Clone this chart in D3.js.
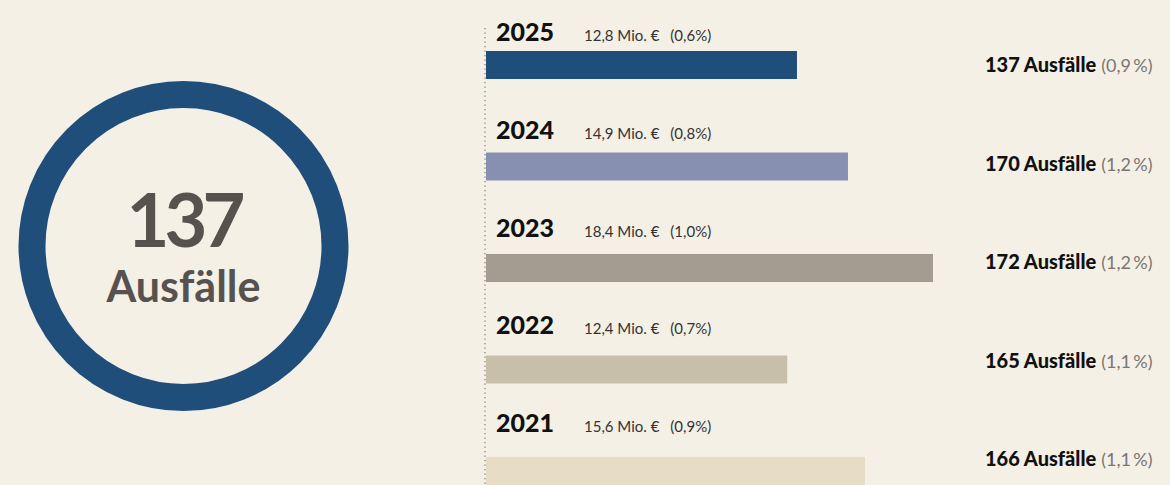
<!DOCTYPE html>
<html>
<head>
<meta charset="utf-8">
<script src="https://cdn.jsdelivr.net/npm/d3@7"></script>
<style>
  body { margin: 0; background: #f4f0e6; }
  svg { display: block; font-family: Lato, "Noto Sans", sans-serif; }
</style>
</head>
<body>
<div id="chart"></div>
<script>
// data
const years = ["2025", "2024", "2023", "2022", "2021"];
const amounts = [12.8, 14.9, 18.4, 12.4, 15.6];       // Mio. €
const amountPct = [0.6, 0.8, 1.0, 0.7, 0.9];          // % 
const failures = [137, 170, 172, 165, 166];           // Ausfälle
const failurePct = [0.9, 1.2, 1.2, 1.1, 1.1];         // %
const barColors = ["#1f4e7a", "#8790b1", "#a29d90", "#c8bfaa", "#e7ddc4"];

const width = 1170;
const height = 485;

// german number format
const de = d3.formatLocale({ decimal: ",", thousands: ".", grouping: [3], currency: ["", " €"] });
const f1 = de.format(".1f");

const svg = d3.select("#chart")
  .append("svg")
  .attr("width", width)
  .attr("height", height);

svg.append("rect")
  .attr("width", width)
  .attr("height", height)
  .attr("fill", "#f4f0e6");

// ---------------- big ring on the left ----------------
const cx = 183.5, cy = 246;
svg.append("circle")
  .attr("cx", cx)
  .attr("cy", cy)
  .attr("r", 151.5)
  .attr("fill", "none")
  .attr("stroke", barColors[0])
  .attr("stroke-width", 27);

svg.append("text")
  .attr("x", cx)
  .attr("y", 247)
  .attr("text-anchor", "middle")
  .attr("font-size", 74)
  .attr("font-weight", 700)
  .attr("letter-spacing", -5)
  .attr("fill", "#57524e")
  .text(failures[0]);

svg.append("text")
  .attr("x", cx)
  .attr("y", 302)
  .attr("text-anchor", "middle")
  .attr("font-size", 43)
  .attr("font-weight", 700)
  .attr("fill", "#57524e")
  .text("Ausfälle");

// ---------------- bars ----------------
const x = d3.scaleLinear()
  .domain([0, d3.max(amounts)])
  .range([486, 933]);

// row positions (bars, year labels, right labels are spaced slightly differently)
const barY = d3.scalePoint().domain(years).range([51, 457]);
const yearY = d3.scalePoint().domain(years).range([41, 432]);
const rightY = d3.scalePoint().domain(years).range([72, 466]);
const barH = 28;

// dotted baseline
svg.append("line")
  .attr("x1", x(0) - 1)
  .attr("x2", x(0) - 1)
  .attr("y1", 28)
  .attr("y2", height)
  .attr("stroke", "#8a8680")
  .attr("stroke-width", 1.3)
  .attr("stroke-dasharray", "1.3,3.2");

const rows = svg.selectAll(".row")
  .data(years)
  .enter()
  .append("g")
  .attr("class", "row");

rows.append("rect")
  .attr("x", x(0))
  .attr("y", d => barY(d))
  .attr("width", (d, i) => x(amounts[i]) - x(0))
  .attr("height", barH)
  .attr("fill", (d, i) => barColors[i]);

rows.append("text")
  .attr("x", 496)
  .attr("y", d => yearY(d))
  .attr("font-size", 25)
  .attr("font-weight", 900)
  .attr("fill", "#111")
  .text(d => d);

const amt = rows.append("text")
  .attr("x", 584)
  .attr("y", d => yearY(d))
  .attr("font-size", 15)
  .attr("fill", "#333");
amt.append("tspan")
  .text((d, i) => f1(amounts[i]) + " Mio. €");
amt.append("tspan")
  .attr("dx", 11)
  .text((d, i) => "(" + f1(amountPct[i]) + "%)");

const right = rows.append("text")
  .attr("x", 985)
  .attr("y", d => rightY(d))
  .attr("font-size", 20)
  .attr("fill", "#111");
right.append("tspan")
  .attr("font-weight", 900)
  .text((d, i) => failures[i] + " Ausfälle");
right.append("tspan")
  .attr("font-weight", 400)
  .attr("font-size", 18)
  .attr("fill", "#7a7672")
  .attr("dx", 5)
  .text((d, i) => "(" + f1(failurePct[i]) + "\u2009%)");
</script>
</body>
</html>
